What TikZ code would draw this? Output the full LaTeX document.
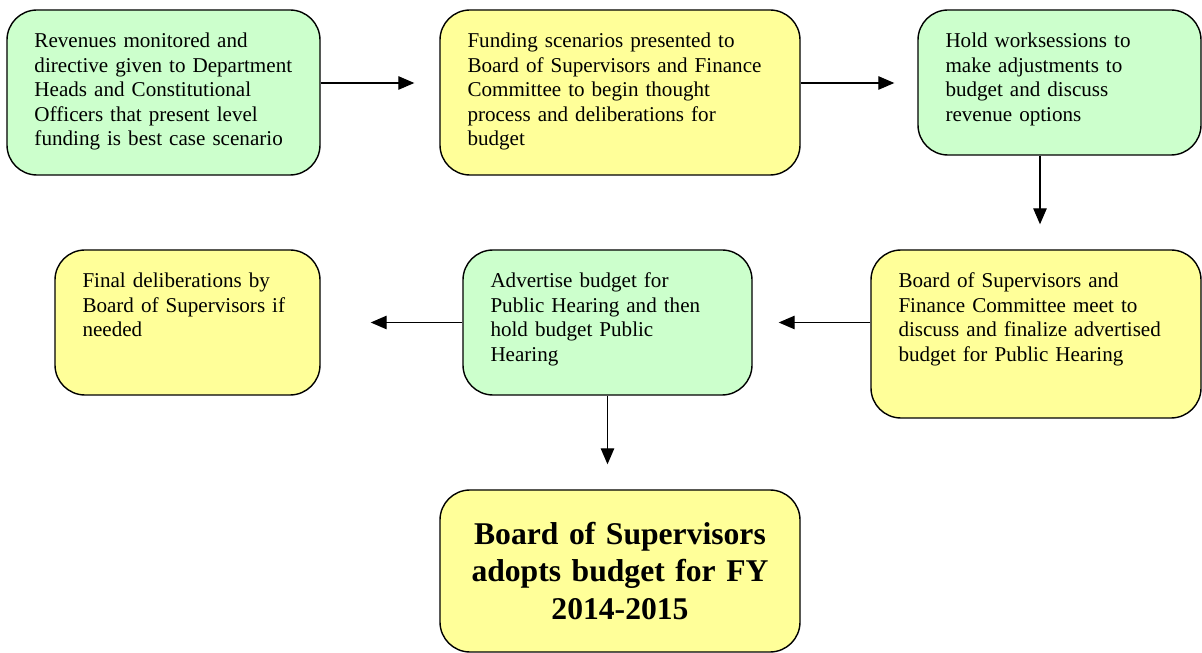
\documentclass[tikz,border=0pt]{standalone}
\usepackage{fontspec}
\setmainfont{Liberation Serif}
\usetikzlibrary{arrows.meta}

\definecolor{mint}{HTML}{CCFFCC}
\definecolor{butter}{HTML}{FFFF99}

\begin{document}
\begin{tikzpicture}[
stage/.style 2 args={
draw,
line width=0.8pt,
rounded corners=0.6cm,
align=left,
inner xsep=0.55cm,
inner ysep=0pt,
text width=#1,
text height=0.76cm,
text depth=#2,
font=\fontsize{12}{13.9}\selectfont
},
greenbox/.style={fill=mint},
yellowbox/.style={fill=butter},
flow/.style={-{Triangle[length=3.2mm,width=2.7mm]}, line width=0.7pt}
]
\useasboundingbox (0,0) rectangle (24.04,-13.06);

% top row
\node[stage={5.16cm}{2.54cm}, greenbox] (rev) at (3.27,-1.85)
{Revenues monitored and\\directive given to Department\\Heads and Constitutional\\Officers that present level\\funding is best case scenario};
\node[stage={6.1cm}{2.54cm}, yellowbox] (scen) at (12.4,-1.85)
{Funding scenarios presented to\\Board of Supervisors and Finance\\Committee to begin thought\\process and deliberations for\\budget};
\node[stage={4.56cm}{2.14cm}, greenbox] (work) at (21.19,-1.65)
{Hold worksessions to\\make adjustments to\\budget and discuss\\revenue options};

% middle row
\node[stage={5.5cm}{2.6cm}, yellowbox] (meet) at (20.72,-6.68)
{Board of Supervisors and\\Finance Committee meet to\\discuss and finalize advertised\\budget for Public Hearing};
\node[stage={4.68cm}{2.14cm}, greenbox] (adv) at (12.15,-6.45)
{Advertise budget for\\Public Hearing and then\\hold budget Public\\Hearing};
\node[stage={4.2cm}{2.14cm}, yellowbox] (final) at (3.75,-6.45)
{Final deliberations by\\Board of Supervisors if\\needed};

% result
\node[draw, line width=0.8pt, rounded corners=0.6cm, yellowbox,
align=center, text width=6.1cm, inner xsep=0.55cm,
minimum height=3.24cm, font=\fontsize{18}{21.6}\selectfont\bfseries] (adopt) at (12.4,-11.42)
{Board of Supervisors\\adopts budget for FY\\2014-2015};

% arrows start a little above the box centres
\coordinate (revout) at ([yshift=0.19cm]rev.east);
\coordinate (scenout) at ([yshift=0.19cm]scen.east);
\coordinate (workout) at ([xshift=-0.39cm]work.south);

\draw[flow, shorten >=0.5cm] (revout) -- (scen.west |- revout);
\draw[flow, shorten >=0.46cm] (scenout) -- (work.west |- scenout);
\draw[flow, shorten >=0.5cm] (workout) -- (workout |- meet.north);
\draw[flow, shorten >=0.52cm] (meet.west |- adv.east) -- (adv.east);
\draw[flow, shorten >=1cm] (adv.west) -- (final.east);
\draw[flow, shorten >=0.5cm] (adv.south) -- (adv.south |- adopt.north);

\end{tikzpicture}
\end{document}
